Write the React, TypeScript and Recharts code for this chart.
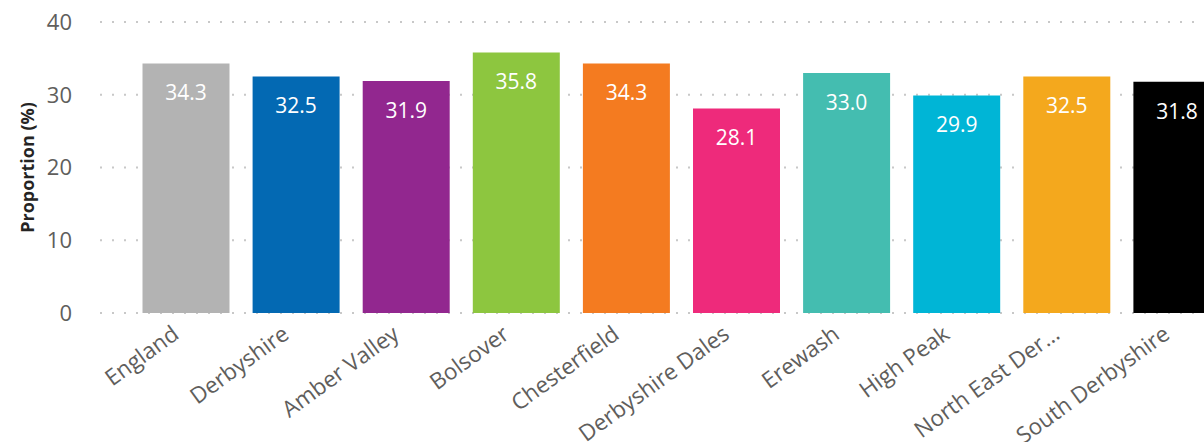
import React from 'react'
import { BarChart, Bar, XAxis, YAxis, CartesianGrid, Cell, LabelList } from 'recharts'

const areas = [
  'England',
  'Derbyshire',
  'Amber Valley',
  'Bolsover',
  'Chesterfield',
  'Derbyshire Dales',
  'Erewash',
  'High Peak',
  'North East Derbyshire',
  'South Derbyshire'
]
const proportions = [34.3, 32.5, 31.9, 35.8, 34.3, 28.1, 33.0, 29.9, 32.5, 31.8]
const barColors = [
  '#B3B3B3',
  '#0369B3',
  '#92278F',
  '#8DC63F',
  '#F47B20',
  '#EE2A7B',
  '#44BDB0',
  '#00B5D6',
  '#F4A81D',
  '#000000'
]
const yTicks = [0, 10, 20, 30, 40]

const data = areas.map((name, i) => ({ name, value: proportions[i] }))

const FONT = '"Open Sans", "Noto Sans", sans-serif'

const shorten = (s: string) => (s.length > 17 ? s.slice(0, 14) + '…' : s)

const AreaTick = ({ x, y, payload }: any) => (
  <g transform={`translate(${x - 11},${y + 9})`}>
    <text
      transform="rotate(-36)"
      textAnchor="end"
      dy={9}
      fill="#605E5C"
      fontSize={22.5}
      fontFamily={FONT}
    >
      {shorten(payload.value)}
    </text>
  </g>
)

export default function App() {
  return (
    <div
      style={{
        position: 'absolute',
        left: 0,
        top: 0,
        width: 1204,
        height: 442,
        overflow: 'hidden',
        background: '#fff'
      }}
    >
      <BarChart
        width={1232}
        height={442}
        data={data}
        margin={{ top: 22, right: 0, left: 0, bottom: 0 }}
        barCategoryGap={11.5}
      >
        <CartesianGrid
          vertical={false}
          stroke="#C8C8C8"
          strokeWidth={2}
          strokeDasharray="2 10"
        />
        <XAxis
          dataKey="name"
          axisLine={false}
          tickLine={false}
          interval={0}
          height={129}
          padding={{ left: 31, right: 0 }}
          tick={<AreaTick />}
        />
        <YAxis
          domain={[0, 40]}
          ticks={yTicks}
          width={100}
          axisLine={false}
          tickLine={false}
          tickMargin={22}
          tick={{ fill: '#605E5C', fontSize: 22, fontFamily: FONT }}
          label={{
            value: 'Proportion (%)',
            angle: -90,
            position: 'insideLeft',
            offset: 28,
            style: {
              textAnchor: 'middle',
              fill: '#252423',
              fontSize: 18,
              fontWeight: 700,
              fontFamily: FONT
            }
          }}
        />
        <Bar dataKey="value" isAnimationActive={false}>
          {data.map((d, i) => (
            <Cell key={d.name} fill={barColors[i]} />
          ))}
          <LabelList
            dataKey="value"
            position="insideTop"
            offset={22}
            formatter={(v: any) => Number(v).toFixed(1)}
            fill="#FFFFFF"
            fontSize={21}
            fontFamily={FONT}
          />
        </Bar>
      </BarChart>
    </div>
  )
}
